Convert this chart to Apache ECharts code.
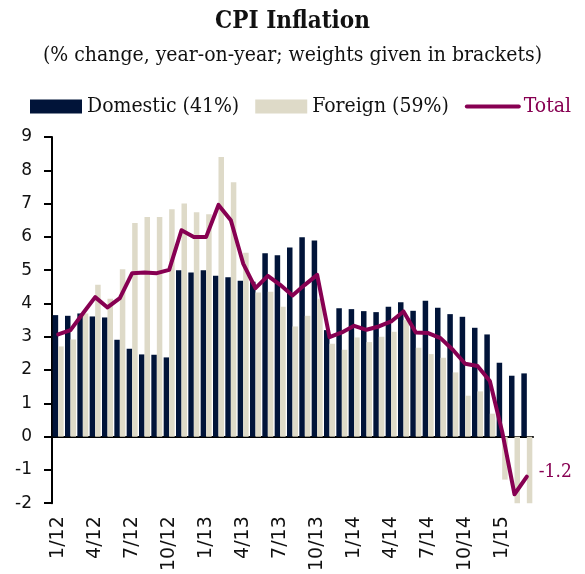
<!DOCTYPE html>
<html>
<head>
<meta charset="utf-8">
<script src="https://cdn.jsdelivr.net/npm/echarts@6/dist/echarts.min.js"></script>
<style>
  html, body { margin: 0; padding: 0; background: #fff; }
  #chart { width: 585px; height: 574px; }
</style>
</head>
<body>
<div id="chart"></div>
<script>
const months = [
  '1/12', '2/12', '3/12', '4/12', '5/12', '6/12', '7/12', '8/12', '9/12', '10/12', '11/12', '12/12',
  '1/13', '2/13', '3/13', '4/13', '5/13', '6/13', '7/13', '8/13', '9/13', '10/13', '11/13', '12/13',
  '1/14', '2/14', '3/14', '4/14', '5/14', '6/14', '7/14', '8/14', '9/14', '10/14', '11/14', '12/14',
  '1/15', '2/15', '3/15'
]

const domestic = [
  3.65, 3.63, 3.70, 3.61, 3.58, 2.91, 2.64, 2.47, 2.46, 2.38, 5.00, 4.93,
  5.00, 4.83, 4.79, 4.68, 4.65, 5.51, 5.45, 5.68, 5.99, 5.89, 3.20, 3.86,
  3.83, 3.77, 3.74, 3.90, 4.04, 3.78, 4.08, 3.87, 3.68, 3.60, 3.27, 3.07,
  2.22, 1.83, 1.90
]

const foreign = [
  2.71, 2.92, 3.70, 4.56, 4.14, 5.03, 6.42, 6.60, 6.60, 6.83, 7.00, 6.74,
  6.68, 8.40, 7.64, 5.52, 4.33, 4.35, 3.90, 3.31, 3.63, 4.14, 2.79, 2.61,
  2.98, 2.84, 3.00, 3.15, 3.50, 2.67, 2.48, 2.37, 1.93, 1.23, 1.36, 0.69,
  -1.29, -4.20, -3.35
]

const total = [
  3.07, 3.20, 3.70, 4.19, 3.88, 4.16, 4.91, 4.93, 4.91, 5.01, 6.20, 6.00,
  6.00, 6.96, 6.50, 5.20, 4.46, 4.83, 4.56, 4.24, 4.56, 4.86, 2.99, 3.13,
  3.33, 3.21, 3.31, 3.46, 3.76, 3.13, 3.11, 2.96, 2.61, 2.19, 2.12, 1.67,
  0.15, -1.73, -1.20
]

const NAVY = '#011439'
const BEIGE = '#dedac8'
const PLUM = '#870052'
const SERIF = '"DejaVu Serif Condensed", "DejaVu Serif", serif'

const chart = echarts.init(document.getElementById('chart'))

chart.setOption({
  animation: false,
  title: {
    text: 'CPI Inflation',
    subtext: '(% change, year-on-year; weights given in brackets)',
    left: 'center',
    top: 5,
    itemGap: 11,
    textStyle: {
      fontFamily: SERIF,
      fontSize: 24,
      fontWeight: 'bold',
      color: '#111',
    },
    subtextStyle: {
      fontFamily: SERIF,
      fontSize: 21,
      color: '#111',
    },
  },
  legend: {
    left: 25,
    top: 91,
    itemWidth: 52,
    itemHeight: 14,
    itemGap: 16,
    textStyle: {
      fontFamily: SERIF,
      fontSize: 21,
      color: '#111',
    },
    data: [
      { name: 'Domestic (41%)', icon: 'rect' },
      { name: 'Foreign (59%)', icon: 'rect' },
      {
        name: 'Total',
        itemStyle: { opacity: 0 },
        lineStyle: { width: 4, color: PLUM },
        textStyle: { color: PLUM },
      },
    ],
  },
  grid: {
    left: 52,
    right: 52,
    top: 137,
    bottom: 70,
  },
  xAxis: [
    {
      type: 'category',
      data: months,
      axisLine: { onZero: true, lineStyle: { color: '#000', width: 2 } },
      axisTick: { interval: 2, length: 6, lineStyle: { color: '#000', width: 2 } },
      axisLabel: { show: false },
    },
    {
      type: 'category',
      data: months,
      position: 'bottom',
      axisLine: { show: false },
      axisTick: { show: false },
      axisLabel: {
        interval: 2,
        rotate: 90,
        margin: 13,
        fontFamily: 'DejaVu Sans',
        fontSize: 19,
        color: '#111',
      },
    },
  ],
  yAxis: {
    type: 'value',
    min: -2,
    max: 9,
    interval: 1,
    splitLine: { show: false },
    axisLine: { show: true, lineStyle: { color: '#000', width: 2 } },
    axisTick: { show: true, length: 8, lineStyle: { color: '#000', width: 2 } },
    axisLabel: {
      margin: 20,
      fontFamily: 'DejaVu Sans',
      fontSize: 17,
      color: '#111',
    },
  },
  series: [
    {
      name: 'Domestic (41%)',
      type: 'bar',
      data: domestic,
      barWidth: 5.5,
      barGap: '0%',
      itemStyle: { color: NAVY },
    },
    {
      name: 'Foreign (59%)',
      type: 'bar',
      data: foreign,
      barWidth: 5.5,
      barGap: '0%',
      itemStyle: { color: BEIGE },
    },
    {
      name: 'Total',
      type: 'line',
      data: total,
      symbol: 'none',
      lineStyle: { color: PLUM, width: 4, cap: 'round', join: 'round' },
      itemStyle: { color: PLUM },
      endLabel: {
        show: true,
        distance: 12,
        offset: [0, -5],
        fontFamily: SERIF,
        fontSize: 19,
        color: PLUM,
        formatter: (p) => p.value.toFixed(1),
      },
      z: 5,
    },
  ],
})
</script>
</body>
</html>
